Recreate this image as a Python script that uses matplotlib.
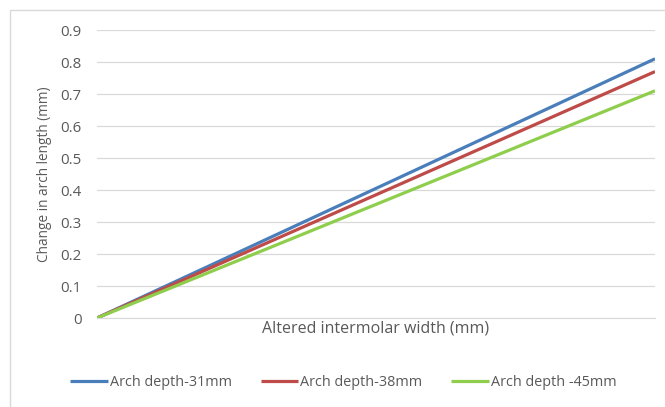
import matplotlib
matplotlib.use('Agg')
import matplotlib.pyplot as plt
from matplotlib.patches import Rectangle

# altered intermolar width steps (no tick labels on the original)
x_steps = [0, 1]
depth_31 = [0.0, 0.81]
depth_38 = [0.0, 0.77]
depth_45 = [0.0, 0.71]
series_names = ['Arch depth-31mm', 'Arch depth-38mm', 'Arch depth -45mm']
y_ticks = [0, 0.1, 0.2, 0.3, 0.4, 0.5, 0.6, 0.7, 0.8, 0.9]
y_tick_labels = ['0', '0.1', '0.2', '0.3', '0.4', '0.5', '0.6', '0.7', '0.8', '0.9']

plt.rcParams['font.family'] = ['Open Sans', 'DejaVu Sans']
text_color = '#595959'

fig = plt.figure(figsize=(6.65, 4.07), dpi=100)
# light chart border like the Excel chart area
fig.patches.append(Rectangle((10 / 665, -0.05), 1.1, 1 - 10 / 407 + 0.05,
                             transform=fig.transFigure, fill=False,
                             edgecolor='#d9d9d9', linewidth=1))

ax = fig.add_axes([97 / 665, 1 - 318 / 407, (655 - 97) / 665, (318 - 30) / 407])

colors = ['#4a7ebb', '#be4b48', '#8fce4c']
for vals, name, c in zip([depth_31, depth_38, depth_45], series_names, colors):
    ax.plot(x_steps, vals, color=c, linewidth=2.3, label=name, solid_capstyle='butt')

ax.set_xlim(x_steps[0], x_steps[-1])
ax.set_ylim(0, 0.9)
ax.set_yticks(y_ticks)
ax.set_yticklabels(y_tick_labels, fontsize=10.8, color=text_color)
ax.set_xticks([])
ax.tick_params(axis='y', length=0, pad=11)
ax.grid(axis='y', color='#d9d9d9', linewidth=0.9)
ax.set_axisbelow(True)
for s in ['top', 'right', 'left']:
    ax.spines[s].set_visible(False)
ax.spines['bottom'].set_color('#d9d9d9')

ax.set_xlabel('Altered intermolar width (mm)', fontsize=11.5, color=text_color, labelpad=2)
ax.set_ylabel('Change in arch length (mm)', fontsize=9.8, color=text_color, labelpad=6)

leg = fig.legend(loc='center left', bbox_to_anchor=(70 / 665, 1 - 383 / 407), ncol=3,
                 frameon=False, fontsize=10.4, handlelength=2.6, handletextpad=0.15,
                 columnspacing=2.0, borderpad=0, borderaxespad=0)
for t in leg.get_texts():
    t.set_color(text_color)

fig.savefig('out.png', dpi=100)
